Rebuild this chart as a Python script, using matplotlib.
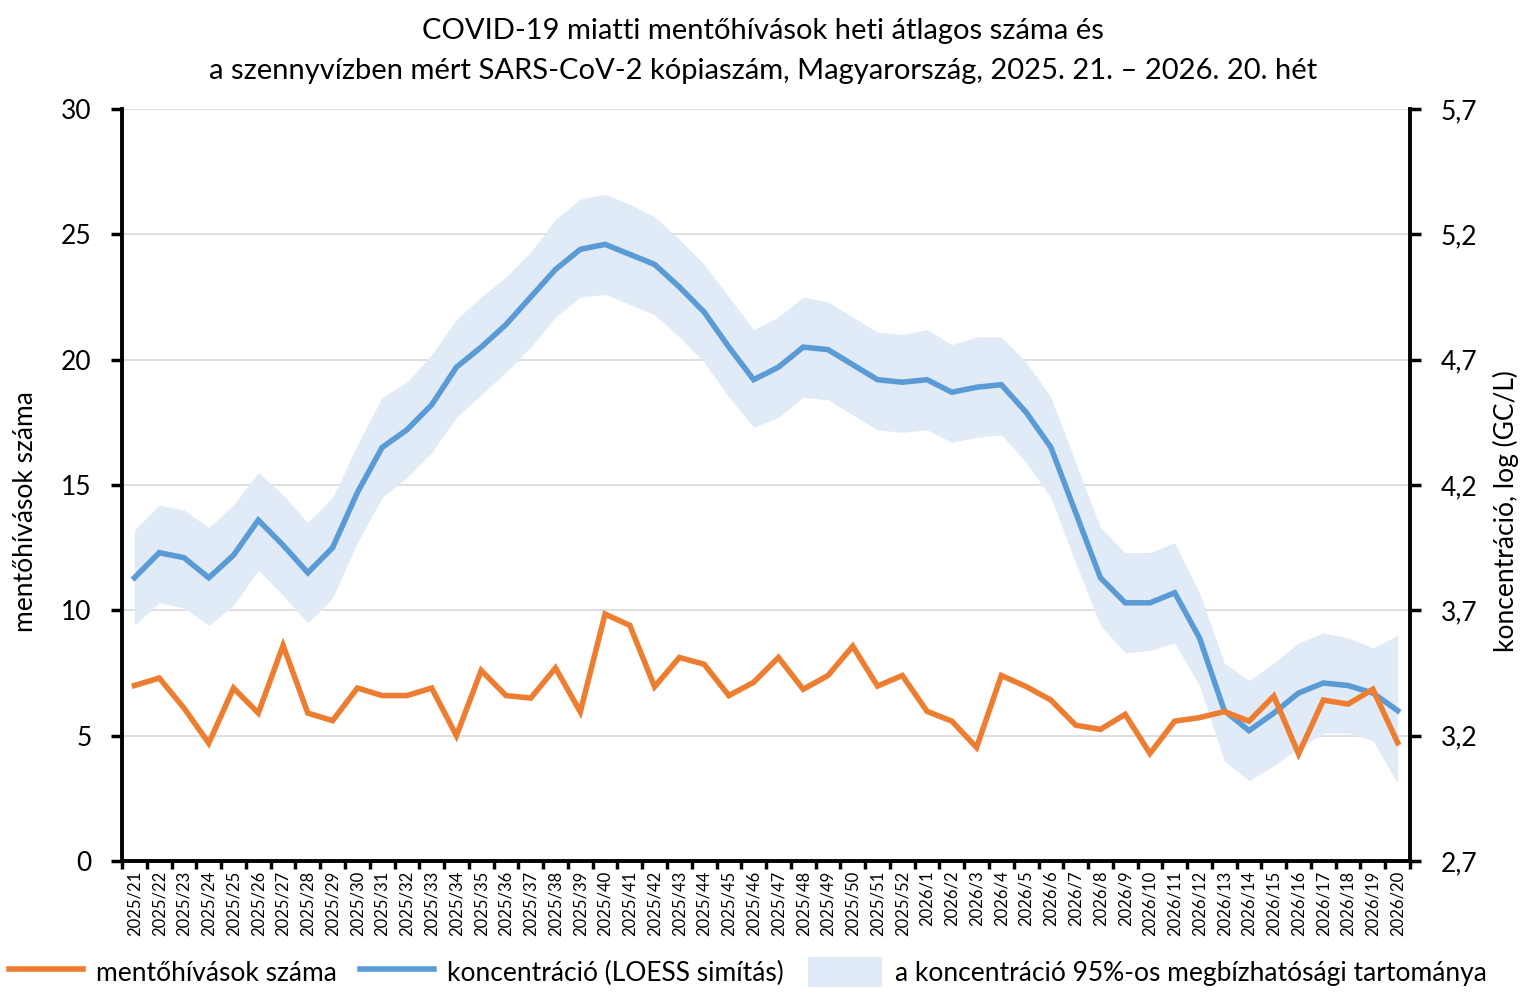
import matplotlib
matplotlib.use("Agg")
import matplotlib.pyplot as plt
from matplotlib.lines import Line2D
from matplotlib.patches import Patch
from matplotlib.ticker import FixedLocator, FuncFormatter

plt.rcParams["font.family"] = ["Lato", "DejaVu Sans"]

# weekly categories
weeks = [f"2025/{w}" for w in range(21, 53)] + [f"2026/{w}" for w in range(1, 21)]

# COVID-19 related ambulance calls, weekly average (left axis)
calls = [7.0, 7.3, 6.1, 4.7, 6.9, 5.9, 8.6, 5.9, 5.6, 6.9,
         6.6, 6.6, 6.9, 5.0, 7.6, 6.6, 6.5, 7.7, 5.95, 9.85,
         9.4, 6.95, 8.12, 7.85, 6.6, 7.13, 8.12, 6.85, 7.4, 8.57,
         6.98, 7.4, 5.97, 5.58, 4.53, 7.4, 6.96, 6.42, 5.42, 5.25,
         5.85, 4.29, 5.58, 5.72, 5.96, 5.58, 6.58, 4.27, 6.42, 6.26,
         6.85, 4.72]

# wastewater SARS-CoV-2 concentration, log (GC/L) (right axis)
conc = [3.83, 3.93, 3.91, 3.83, 3.92, 4.06, 3.96, 3.85, 3.95, 4.17,
        4.35, 4.42, 4.52, 4.67, 4.75, 4.84, 4.95, 5.06, 5.14, 5.16,
        5.12, 5.08, 4.99, 4.89, 4.75, 4.62, 4.67, 4.75, 4.74, 4.68,
        4.62, 4.61, 4.62, 4.57, 4.59, 4.60, 4.49, 4.35, 4.09, 3.83,
        3.73, 3.73, 3.77, 3.59, 3.30, 3.22, 3.29, 3.37, 3.41, 3.40,
        3.37, 3.30]
conc_upper = [4.02, 4.12, 4.10, 4.03, 4.12, 4.25, 4.16, 4.05, 4.15, 4.36,
              4.55, 4.61, 4.72, 4.86, 4.95, 5.03, 5.13, 5.26, 5.34, 5.36,
              5.32, 5.27, 5.18, 5.08, 4.95, 4.82, 4.87, 4.95, 4.93, 4.87,
              4.81, 4.80, 4.82, 4.76, 4.79, 4.79, 4.69, 4.55, 4.29, 4.03,
              3.93, 3.93, 3.97, 3.77, 3.49, 3.42, 3.49, 3.57, 3.61, 3.59,
              3.55, 3.60]
conc_lower = [3.64, 3.73, 3.71, 3.64, 3.72, 3.86, 3.76, 3.65, 3.75, 3.97,
              4.15, 4.23, 4.33, 4.47, 4.56, 4.65, 4.75, 4.87, 4.95, 4.96,
              4.92, 4.88, 4.79, 4.69, 4.55, 4.43, 4.47, 4.55, 4.54, 4.48,
              4.42, 4.41, 4.42, 4.37, 4.39, 4.40, 4.29, 4.15, 3.89, 3.64,
              3.53, 3.54, 3.57, 3.40, 3.10, 3.02, 3.08, 3.15, 3.21, 3.21,
              3.18, 3.01]

ORANGE = "#ED7D31"
BLUE = "#5B9BD5"
BAND = "#E0EBF7"
GRID = "#D9D9D9"
FS = 19

x = list(range(len(weeks)))

fig = plt.figure(figsize=(15.26, 9.97), dpi=100)
ax = fig.add_axes([0.0800, 0.1364, 0.8440, 0.7543])
ax2 = ax.twinx()

# right axis: band + smoothed concentration (drawn underneath)
ax2.set_ylim(2.7, 5.7)
ax2.set_yticks([2.7, 3.2, 3.7, 4.2, 4.7, 5.2, 5.7])
ax2.yaxis.set_major_formatter(FuncFormatter(lambda v, p: f"{v:.1f}".replace(".", ",")))
ax2.grid(axis="y", color=GRID, linewidth=1.2, zorder=0)
ax2.set_axisbelow(True)
ax2.fill_between(x, conc_lower, conc_upper, color=BAND, linewidth=0, zorder=1)
ax2.plot(x, conc, color=BLUE, linewidth=4, zorder=3, solid_joinstyle="miter")

# left axis: ambulance calls on top
ax.set_zorder(ax2.get_zorder() + 1)
ax.patch.set_visible(False)
ax.plot(x, calls, color=ORANGE, linewidth=4, zorder=3, solid_joinstyle="miter")
ax.set_ylim(0, 30)
ax.set_yticks(range(0, 31, 5))
ax.set_xlim(-0.5, len(weeks) - 0.5)

ax.set_xticks(x)
ax.set_xticklabels(weeks, rotation=90, fontsize=12)
ax.xaxis.set_minor_locator(FixedLocator([i - 0.5 for i in range(len(weeks) + 1)]))
ax.tick_params(axis="x", which="major", length=0, pad=7)
ax.tick_params(axis="x", which="minor", length=6, width=2.5, direction="out")
ax.tick_params(axis="y", length=8, width=2.5, labelsize=FS, pad=14)
ax2.tick_params(axis="y", length=8, width=2.5, labelsize=FS, pad=14)

for s in ["top", "right"]:
    ax.spines[s].set_visible(False)
for s in ["left", "bottom"]:
    ax.spines[s].set_linewidth(2.8)
for s in ["top", "left", "bottom"]:
    ax2.spines[s].set_visible(False)
ax2.spines["right"].set_linewidth(2.8)

ax.set_ylabel("mentőhívások száma", fontsize=FS)
ax.yaxis.set_label_coords(-0.065, 0.465)
ax2.set_ylabel("koncentráció, log (GC/L)", fontsize=FS)
ax2.yaxis.set_label_coords(1.064, 0.465)

fig.text(0.5, 0.969, "COVID-19 miatti mentőhívások heti átlagos száma és",
         ha="center", va="center", fontsize=21)
fig.text(0.5, 0.929, "a szennyvízben mért SARS-CoV-2 kópiaszám, Magyarország, 2025. 21. – 2026. 20. hét",
         ha="center", va="center", fontsize=21)

handles = [
    Line2D([], [], color=ORANGE, linewidth=4),
    Line2D([], [], color=BLUE, linewidth=4),
    Patch(facecolor=BAND, edgecolor="none"),
]
labels = ["mentőhívások száma", "koncentráció (LOESS simítás)",
          "a koncentráció 95%-os megbízhatósági tartománya"]
fig.legend(handles, labels, loc="center", bbox_to_anchor=(0.49, 0.025), ncol=3,
           frameon=False, fontsize=FS, handlelength=2.8, handleheight=1.4,
           handletextpad=0.5, columnspacing=0.9)

fig.savefig("out.png", dpi=100)
